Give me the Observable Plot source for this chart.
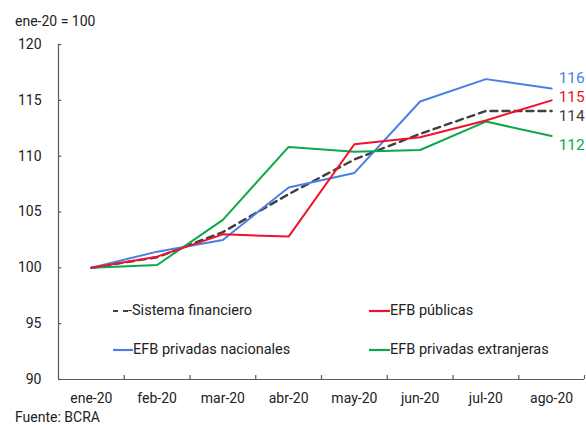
<!DOCTYPE html>
<html>
<head>
<meta charset="utf-8">
<script src="https://cdn.jsdelivr.net/npm/d3@7"></script>
<script src="https://cdn.jsdelivr.net/npm/@observablehq/plot@0.6"></script>
<style>
  html, body { margin: 0; padding: 0; background: #fff; }
  #wrap { position: relative; width: 586px; height: 425px; font-family: Roboto, "Noto Sans", sans-serif; color: #222; overflow: hidden; }
  #chart { position: absolute; left: 0; top: 0; }
  .txt { position: absolute; font-size: 14px; line-height: 18px; height: 18px; white-space: nowrap; }
  .leg { position: absolute; display: flex; align-items: center; font-size: 14.5px; line-height: 20px; height: 20px; white-space: nowrap; }
  .leg svg { display: block; }
</style>
</head>
<body>
<div id="wrap">
  <div id="chart"></div>
  <div class="txt" style="left:15px; top:12px;">ene-20 = 100</div>
  <div class="txt" style="left:15px; top:408px;">Fuente: BCRA</div>
  <div id="legend"></div>
</div>
<script>
// ---- Data ----
const months = ["ene-20", "feb-20", "mar-20", "abr-20", "may-20", "jun-20", "jul-20", "ago-20"];
const sistema     = [100, 100.95, 103.2, 106.6, 109.7, 112.0, 114.05, 114.05];
const publicas    = [100, 101.0, 103.0, 102.8, 111.07, 111.7, 113.2, 115.0];
const nacionales  = [100, 101.45, 102.5, 107.2, 108.5, 114.9, 116.9, 116.05];
const extranjeras = [100, 100.25, 104.3, 110.83, 110.4, 110.55, 113.1, 111.8];
const yTicks = [90, 95, 100, 105, 110, 115, 120];
const seriesNames = ["Sistema financiero", "EFB públicas", "EFB privadas nacionales", "EFB privadas extranjeras"];

const colors = {
  sistema: "#404040",
  publicas: "#f0122b",
  nacionales: "#4a7fe8",
  extranjeras: "#0aa84a"
};

const toRows = arr => arr.map((v, i) => ({i, v}));
const axisColor = "#595959";
const bounds = d3.range(0.5, months.length, 1);
const last = months.length - 1;

function endLabel(arr, color, dy) {
  return Plot.text([{i: last, v: arr[last]}], {
    x: "i", y: "v", text: d => String(Math.round(d.v)),
    dx: 7, dy, textAnchor: "start", fill: color, fontSize: 15.5
  });
}

const chart = Plot.plot({
  width: 586,
  height: 425,
  marginLeft: 58,
  marginRight: 2,
  marginTop: 44,
  marginBottom: 46,
  x: {type: "linear", domain: [-0.5, months.length - 0.5]},
  y: {domain: [90, 120]},
  style: {fontFamily: "Roboto, 'Noto Sans', sans-serif", fontSize: "14px", color: "#222", background: "transparent"},
  marks: [
    Plot.axisY({ticks: yTicks, tickSize: 0, tickPadding: 17, tickFormat: d => String(d), fontSize: 14, fill: "#222", label: null}),
    Plot.axisX({ticks: d3.range(months.length), tickSize: 0, tickPadding: 14, tickFormat: i => months[i], fontSize: 14, fill: "#222", label: null}),
    Plot.ruleX([-0.5], {y1: 90, y2: 120, stroke: axisColor, strokeWidth: 1.2}),
    Plot.ruleY([90], {x1: -0.5, x2: months.length - 0.5, stroke: axisColor, strokeWidth: 1.2}),
    Plot.ruleY(yTicks, {y: d => d, x1: -0.5, x2: -0.45, stroke: axisColor, strokeWidth: 1.2}),
    Plot.ruleX(bounds, {x: d => d, y1: 90, y2: 90.35, stroke: axisColor, strokeWidth: 1.2}),
    Plot.line(toRows(sistema), {x: "i", y: "v", stroke: colors.sistema, strokeWidth: 2.4, strokeDasharray: "7,5"}),
    Plot.line(toRows(nacionales), {x: "i", y: "v", stroke: colors.nacionales, strokeWidth: 2}),
    Plot.line(toRows(extranjeras), {x: "i", y: "v", stroke: colors.extranjeras, strokeWidth: 2}),
    Plot.line(toRows(publicas), {x: "i", y: "v", stroke: colors.publicas, strokeWidth: 2}),
    endLabel(nacionales, colors.nacionales, -10.5),
    endLabel(publicas, colors.publicas, -3),
    endLabel(sistema, colors.sistema, 5.5),
    endLabel(extranjeras, colors.extranjeras, 9)
  ]
});
document.getElementById("chart").appendChild(chart);

// ---- Legend (HTML overlay) ----
const legendItems = [
  {name: seriesNames[0], color: colors.sistema, dash: true, left: 113, top: 301, w: 15},
  {name: seriesNames[1], color: colors.publicas, dash: false, left: 369, top: 301, w: 21},
  {name: seriesNames[2], color: colors.nacionales, dash: false, left: 113, top: 340, w: 20},
  {name: seriesNames[3], color: colors.extranjeras, dash: false, left: 369, top: 340, w: 21}
];
const legend = document.getElementById("legend");
for (const it of legendItems) {
  const d = document.createElement("div");
  d.className = "leg";
  d.style.left = it.left + "px";
  d.style.top = it.top + "px";
  const dashAttr = it.dash ? ' stroke-dasharray="5,5"' : "";
  d.innerHTML = `<svg width="${it.w}" height="20"><line x1="0" x2="${it.w}" y1="10" y2="10" stroke="${it.color}" stroke-width="2.2"${dashAttr}/></svg><span>${it.dash ? "-" : ""}${it.name}</span>`;
  legend.appendChild(d);
}
</script>
</body>
</html>
